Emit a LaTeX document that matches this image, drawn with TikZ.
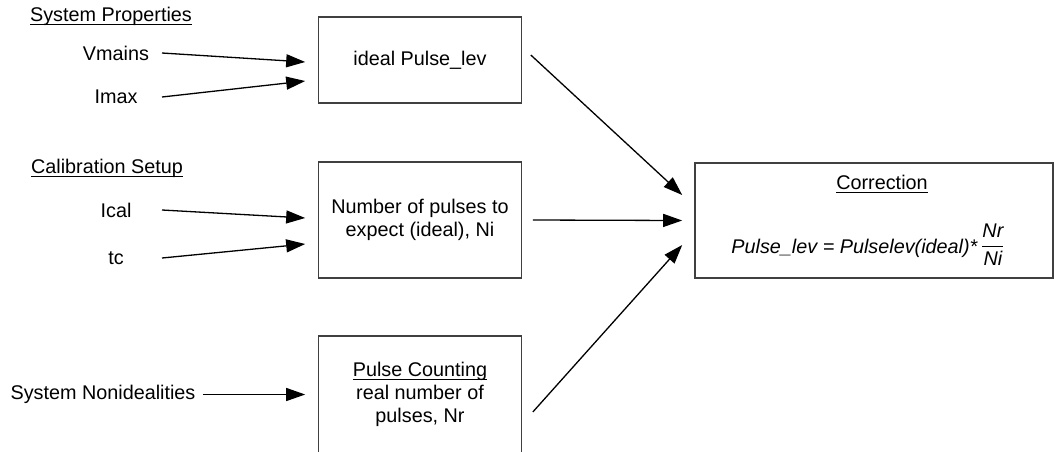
\documentclass[tikz,border=0pt]{standalone}
\usepackage{amsmath}
\usepackage{fontspec}
\setmainfont{Liberation Sans}
\usepackage{tikz}
\usetikzlibrary{arrows.meta,positioning}

\newcommand{\myul}[1]{\underline{\smash[b]{#1}}}

\begin{document}
\begin{tikzpicture}[
  x=1pt, y=-1pt,
  font=\fontsize{19.8}{23.3}\selectfont,
  myrect/.style={
    draw=black!75,
    line width=1.6pt,
    minimum width=203pt,
    minimum height=116pt,
    text centered,
    align=center
  },
  myarrow/.style={
    line width=1.3pt,
    -{Triangle[length=19pt,width=13pt]}
  }
]
\useasboundingbox (0,0) rectangle (1054,451);
\clip (0,0) rectangle (1054,451);

\node [myrect, minimum height=86pt] (ideal) at (420,60) {ideal Pulse\_lev};
\node [myrect] (expect) at (420,220) {Number of pulses to\\expect (ideal), Ni};
\node [myrect, minimum height=117pt] (count) at (420,394.5)
  {\myul{Pulse Counting}\\real number of\\pulses, Nr};
\node [myrect, minimum width=358pt, minimum height=115pt] (corr) at (874,220.5) {};
\node (corrtitle) at (882,184) {\myul{Correction}};
\node (formula) at (868,245)
  {\textit{Pulse\_lev = Pulselev(ideal)*}\,\raisebox{2pt}{$\displaystyle
   \genfrac{}{}{1.3pt}{}{\hbox{\itshape Nr}}{\hbox{\itshape Ni}}$}};

\node (sysprop) at (111,16) {\myul{System Properties}};
\node (vmains) at (116,53) {Vmains};
\node (imax) at (116,97) {Imax};
\node (calib) at (107,168) {\myul{Calibration Setup}};
\node (ical) at (116,210) {Ical};
\node (tc) at (116,258) {tc};
\node (nonid) at (103,394.5) {System Nonidealities};

\coordinate (instart) at (162,0);

\draw [myarrow] (vmains -| instart) -- ([xshift=-12.5pt,yshift=-2pt]ideal.west);
\draw [myarrow] (imax -| instart) -- ([xshift=-12.5pt,yshift=-21pt]ideal.west);
\draw [myarrow] (ical -| instart) -- ([xshift=-12.5pt,yshift=2pt]expect.west);
\draw [myarrow] (tc -| instart) -- ([xshift=-12.5pt,yshift=-24pt]expect.west);
\draw [myarrow] ([xshift=4pt]nonid.east) -- ([xshift=-12.5pt]count.west);

\draw [myarrow] ([xshift=8.5pt,yshift=5pt]ideal.east) -- ([xshift=-12pt,yshift=25.5pt]corr.west);
\draw [myarrow] ([xshift=10.5pt]expect.east) -- ([xshift=-12pt]corr.west);
\draw [myarrow] ([xshift=10.5pt,yshift=-17.5pt]count.east) -- ([xshift=-12pt,yshift=-24.5pt]corr.west);

\end{tikzpicture}
\end{document}
